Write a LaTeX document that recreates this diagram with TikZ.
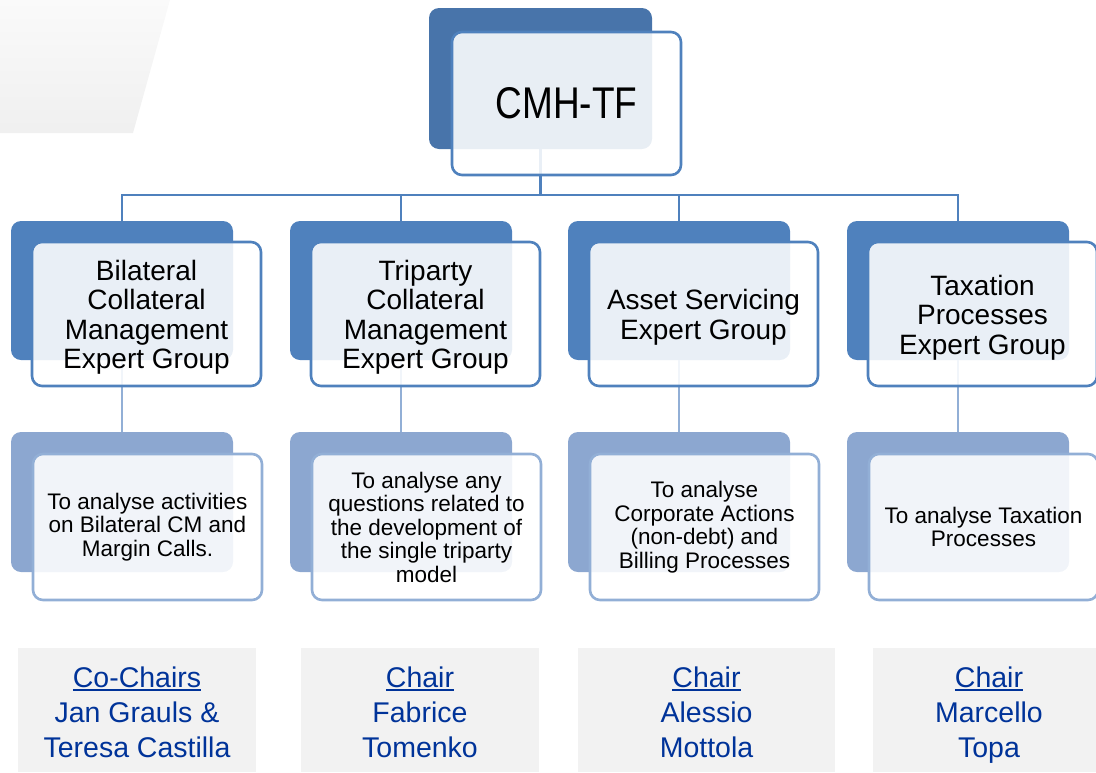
\documentclass[tikz,border=0pt]{standalone}
\usepackage{fontspec}
\setmainfont{Liberation Sans}
\definecolor{cmhback}{RGB}{72,116,170}
\definecolor{rowoneback}{RGB}{79,129,189}
\definecolor{rowtwoback}{RGB}{140,167,208}
\definecolor{rowoneline}{RGB}{79,129,189}
\definecolor{rowtwoline}{RGB}{146,175,214}
\definecolor{labelgray}{RGB}{242,242,242}
\definecolor{labelblue}{RGB}{0,51,153}
\newcommand\myul[1]{\setbox0\hbox{#1}\rlap{\rule[-4pt]{\wd0}{2pt}}\box0}
\newcommand\lbltop{\rule{0pt}{31pt}}
\newcommand\lblbot{\rule[-7pt]{0pt}{7pt}}
\newcommand\grptop{\rule{0pt}{27pt}}
\begin{document}
\begin{tikzpicture}[x=1pt,y=-1pt,
  backbox/.style={rounded corners=10pt, anchor=north west, inner sep=0pt, outer sep=0pt,
    minimum width=222pt, minimum height=139pt},
  frontbox/.style={draw, line width=2.6pt, fill=white, fill opacity=0.88, text opacity=1,
    rounded corners=10pt, anchor=north west, inner sep=0pt, outer sep=0pt, align=center,
    text=black, minimum width=229pt, minimum height=144pt},
  grpfont/.style={font=\fontsize{28}{29.5}\selectfont},
  descfont/.style={font=\fontsize{22.5}{23.5}\selectfont},
  conn/.style={draw=rowoneline, line width=2.8pt},
  conntwo/.style={draw=rowtwoline, line width=2.8pt},
  chairbox/.style={fill=labelgray, anchor=north west, inner sep=0pt, outer sep=0pt,
    minimum height=124pt, align=center, text=labelblue,
    font=\fontsize{28.5}{35}\selectfont}
]
\useasboundingbox (0,0) rectangle (1096,772);
% decorative gray shape
\shade[top color=white!98!black, bottom color=white!94!black]
  (0,0) -- (170,0) -- (133,133) -- (0,133) -- cycle;

% back boxes
\node[backbox, fill=cmhback, minimum width=223pt, minimum height=141pt] (cmhB) at (429,8) {};
\foreach \i/\x in {1/11,2/290,3/568,4/847}{
  \node[backbox, fill=rowoneback] (g\i B) at (\x,221) {};
  \node[backbox, fill=rowtwoback, minimum height=140pt] (d\i B) at (\x,432) {};
}

% connectors
\coordinate (bus) at (540.5,195);
\draw[conn] (cmhB.south) -- (bus);
\foreach \i in {1,2,3,4}{
  \draw[conn] (bus) -| (g\i B.north);
  \draw[conntwo] (g\i B.south) -- (d\i B.north);
}

% front boxes
\node[frontbox, draw=rowoneline, minimum height=143pt,
  font=\fontsize{37}{40}\selectfont] (cmhF) at (452,32) {\scalebox{1}[1.2]{CMH-TF}};

\node[frontbox, draw=rowoneline, grpfont] (g1F) at (32,242)
  {\grptop Bilateral\\Collateral\\Management\\Expert Group};
\node[frontbox, draw=rowoneline, grpfont] (g2F) at (311,242)
  {\grptop Triparty\\Collateral\\Management\\Expert Group};
\node[frontbox, draw=rowoneline, grpfont] (g3F) at (589,242)
  {\grptop Asset Servicing\\Expert Group};
\node[frontbox, draw=rowoneline, grpfont] (g4F) at (868,242)
  {\grptop Taxation\\Processes\\Expert Group};

\node[frontbox, draw=rowtwoline, descfont, minimum height=146pt] (d1F) at (33,454)
  {To analyse activities\\on Bilateral CM and\\Margin Calls.};
\node[frontbox, draw=rowtwoline, descfont, minimum height=146pt] (d2F) at (312,454)
  {To analyse any\\questions related to\\the development of\\the single triparty\\model};
\node[frontbox, draw=rowtwoline, descfont, minimum height=146pt] (d3F) at (590,454)
  {To analyse\\Corporate Actions\\(non-debt) and\\Billing Processes};
\node[frontbox, draw=rowtwoline, descfont, minimum height=146pt] (d4F) at (869,454)
  {To analyse Taxation\\Processes};

% chair labels
\node[chairbox, minimum width=238pt] (c1) at (18,648)
  {\lbltop\myul{Co-Chairs}\\Jan Grauls \&\\Teresa Castilla\lblbot};
\node[chairbox, minimum width=238pt] (c2) at (301,648)
  {\lbltop\myul{Chair}\\Fabrice\\Tomenko\lblbot};
\node[chairbox, minimum width=257pt] (c3) at (578,648)
  {\lbltop\myul{Chair}\\Alessio\\Mottola\lblbot};
\node[chairbox, minimum width=232pt] (c4) at (873,648)
  {\lbltop\myul{Chair}\\Marcello\\Topa\lblbot};
\end{tikzpicture}
\end{document}
